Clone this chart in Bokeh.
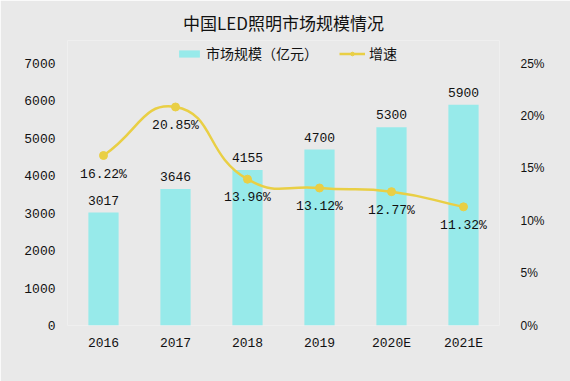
import math
from bokeh.plotting import figure
from bokeh.models import (Range1d, LinearAxis, FixedTicker,
                          PrintfTickFormatter, Legend, LegendItem, ColumnDataSource)
from bokeh.core.properties import value
from bokeh.embed import file_html
from bokeh.resources import INLINE

# ---- data ----
years = ["2016", "2017", "2018", "2019", "2020E", "2021E"]
market = [3017, 3646, 4155, 4700, 5300, 5900]
growth = [16.22, 20.85, 13.96, 13.12, 12.77, 11.32]
left_ticks = [0, 1000, 2000, 3000, 4000, 5000, 6000, 7000]
right_ticks = [0, 5, 10, 15, 20, 25]
left_max, right_max = 7000, 25

title_text = "中国LED照明市场规模情况"
bar_name = "市场规模（亿元）"
line_name = "增速"

BG = "#e9e9e9"
BAR = "#97eaea"
LINE = "#e9cf45"
TXT = "#111111"
MONO = value("Liberation Mono")
CJK = "Noto Sans CJK SC"

W, H = 570, 381
FL, FR, FB = 67, 71, 56
AXIS_TOP = 63          # pixel row where the axes' maxima sit
FT = 40                # frame top (extra room inside frame for legend)
axis_px = H - FB - AXIS_TOP
pad_frac = (AXIS_TOP - FT) / axis_px

p = figure(width=W, height=H, x_range=Range1d(0, len(years)),
           y_range=Range1d(0, left_max * (1 + pad_frac)),
           output_backend="svg", toolbar_location=None,
           background_fill_color=BG, border_fill_color=BG, outline_line_color=None,
           min_border_left=FL, min_border_right=FR, min_border_bottom=FB,
           min_border_top=FT)
p.grid.visible = False
p.extra_y_ranges = {"pct": Range1d(0, right_max * (1 + pad_frac))}

xpos = [i + 0.5 for i in range(len(years))]
p.xaxis.ticker = FixedTicker(ticks=xpos)
p.xaxis.major_label_overrides = {x: y for x, y in zip(xpos, years)}
p.yaxis.ticker = FixedTicker(ticks=left_ticks)
right_axis = LinearAxis(y_range_name="pct", ticker=FixedTicker(ticks=right_ticks),
                        formatter=PrintfTickFormatter(format="%d%%"))
p.add_layout(right_axis, "right")

for ax in [p.xaxis[0], p.yaxis[0], right_axis]:
    ax.axis_line_color = None
    ax.major_tick_line_color = None
    ax.minor_tick_line_color = None
    ax.major_label_text_color = TXT
    ax.major_label_text_font_size = "13px"
    ax.major_label_text_font = "Liberation Mono"
p.yaxis[0].major_label_standoff = 6
p.xaxis[0].major_label_standoff = 4
right_axis.major_label_standoff = 15
right_axis.major_label_text_font = "Liberation Sans"
right_axis.major_label_text_font_size = "12px"

src = ColumnDataSource(dict(
    x=xpos, market=market, mlabel=[str(m) for m in market],
    growth=growth, glabel=["%.2f%%" % g for g in growth]))

bars = p.vbar(x="x", top="market", width=0.42, source=src,
              fill_color=BAR, line_color=None)
p.text(x="x", y="market", text="mlabel", source=src, text_align="center",
       text_baseline="bottom", y_offset=-8, text_font=MONO,
       text_font_size="13px", text_color=TXT)

# smooth line (bezier smoothing computed in pixel space)
XS = (W - FL - FR) / len(years)
YS = axis_px / right_max
n = len(growth)
pts = [(xpos[i] * XS, g * YS) for i, g in enumerate(growth)]
cpl, cpr = [], []
for i in range(n):
    px, py = pts[i]
    qx, qy = pts[i - 1] if i > 0 else pts[i]
    rx, ry = pts[i + 1] if i < n - 1 else pts[i]
    vx, vy = (rx - qx) * 0.5, (ry - qy) * 0.5
    d0 = math.hypot(px - qx, py - qy)
    d1 = math.hypot(rx - px, ry - py)
    s = d0 + d1
    if s:
        d0, d1 = d0 / s, d1 / s
    cpl.append((px - vx * d0, py - vy * d0))
    cpr.append((px + vx * d1, py + vy * d1))
bz = dict(x0=[], y0=[], x1=[], y1=[], cx0=[], cy0=[], cx1=[], cy1=[])
for i in range(n - 1):
    bz["x0"].append(pts[i][0] / XS); bz["y0"].append(pts[i][1] / YS)
    bz["x1"].append(pts[i + 1][0] / XS); bz["y1"].append(pts[i + 1][1] / YS)
    bz["cx0"].append(cpr[i][0] / XS); bz["cy0"].append(cpr[i][1] / YS)
    bz["cx1"].append(cpl[i + 1][0] / XS); bz["cy1"].append(cpl[i + 1][1] / YS)
curve = p.bezier(source=ColumnDataSource(bz), x0="x0", y0="y0", x1="x1", y1="y1",
                 cx0="cx0", cy0="cy0", cx1="cx1", cy1="cy1",
                 y_range_name="pct", line_color=LINE, line_width=2.5)
dots = p.scatter(x="x", y="growth", source=src, y_range_name="pct", size=8,
                 fill_color=LINE, line_color=LINE)
p.text(x="x", y="growth", text="glabel", source=src, y_range_name="pct",
       text_align="center", text_baseline="top", y_offset=11, text_font=MONO,
       text_font_size="13px", text_color=TXT)

legend = Legend(items=[LegendItem(label=bar_name, renderers=[bars]),
                       LegendItem(label=line_name, renderers=[curve, dots])],
                orientation="horizontal", location=(109, axis_px),
                background_fill_alpha=0, border_line_color=None,
                glyph_width=26, glyph_height=9, label_height=16,
                label_standoff=4, spacing=21, padding=0, margin=0,
                label_text_font=CJK, label_text_font_size="14px",
                label_text_color=TXT)
p.add_layout(legend, "center")

p.title.text = title_text
p.title.align = "center"
p.title.text_font = CJK
p.title.text_font_size = "17px"
p.title.text_font_style = "normal"
p.title.text_color = TXT
p.title.standoff = 12

open("out.html", "w").write(file_html(p, INLINE))
